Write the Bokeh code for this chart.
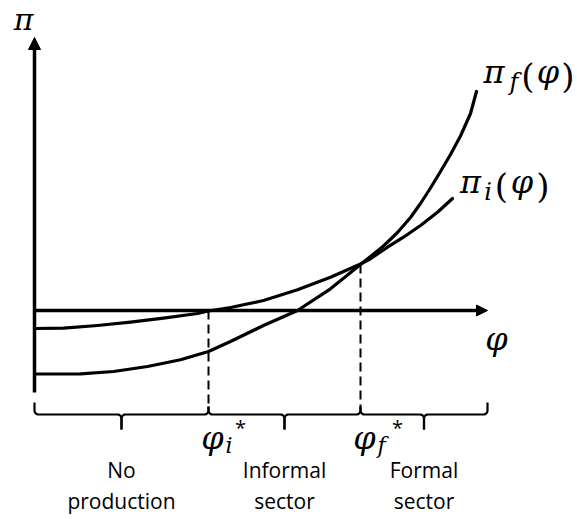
import numpy as np
from bokeh.plotting import figure
from bokeh.models import Range1d, Arrow, NormalHead
from bokeh.core.properties import value
from bokeh.embed import file_html
from bokeh.resources import INLINE

# ---- data (diagram units: phi to the right, pi upward, origin at the axes' crossing) ----
phi_i_pts = [1, 29, 63, 96, 129, 163, 174, 196, 229, 263, 296, 326, 336, 353, 369, 386, 403, 418]
pi_i_vals = [-18, -17.7, -15, -11.7, -7.7, -3, -0.5, 3, 10, 20.7, 33.3, 46.5, 51.7, 63.3, 73.3, 85, 98.3, 112]

phi_f_pts = [1, 46, 79, 113, 146, 174, 196, 229, 263, 296, 326, 336, 349, 363, 376, 386, 396, 406, 416, 426, 436, 442]
pi_f_vals = [-63.5, -63.3, -61, -56, -49.3, -41, -31, -15, 0, 21.7, 46, 54, 64.5, 78, 93, 107, 122.5, 139, 156, 174.5, 197, 219]

phi_i_star = 174
phi_f_star = 326
pi_at_f_star = 46
phi_axis_end = 453
pi_axis_top = 273
pi_axis_bottom = -82

region_edges = [0, phi_i_star, phi_f_star, phi_axis_end]
region_line1 = ["No", "Informal", "Formal"]
region_line2 = ["production", "sector", "sector"]

# ---- figure ----
p = figure(width=577, height=519, x_range=Range1d(-34, 543), y_range=Range1d(-209, 310),
           output_backend="svg", toolbar_location=None, min_border=0)
p.axis.visible = False
p.grid.visible = False
p.outline_line_color = None
p.background_fill_color = "white"
p.border_fill_color = "white"

# axes with arrows
p.add_layout(Arrow(end=NormalHead(size=12, fill_color="black", line_color="black", line_width=1),
                   x_start=0, y_start=pi_axis_bottom, x_end=0, y_end=pi_axis_top,
                   line_width=3.5, line_color="black"))
p.add_layout(Arrow(end=NormalHead(size=11, fill_color="black", line_color="black", line_width=1),
                   x_start=0, y_start=0, x_end=phi_axis_end, y_end=0,
                   line_width=3.5, line_color="black"))

# profit curves
p.line(phi_i_pts, pi_i_vals, line_width=3.2, line_color="black", line_join="round", line_cap="round")
p.line(phi_f_pts, pi_f_vals, line_width=3.2, line_color="black", line_join="round", line_cap="round")

# dashed cut-off lines
brace_y = -104
p.segment(x0=[phi_i_star, phi_f_star], y0=[0, pi_at_f_star],
          x1=[phi_i_star, phi_f_star], y1=[brace_y + 8, brace_y + 8],
          line_dash="9 5", line_width=2, line_color="black")

# curly braces under the axis
def arc(cx, cy, r, a0, a1, n=8):
    t = np.linspace(a0, a1, n)
    return list(cx + r * np.cos(t)), list(cy + r * np.sin(t))

xs, ys = [], []
r = 4
for k in range(3):
    a, b = region_edges[k], region_edges[k + 1]
    m = (a + b) / 2
    top_a = brace_y + (12 if k == 0 else 8)
    top_b = brace_y + (12 if k == 2 else 8)
    tip = brace_y - 15
    ax1, ay1 = arc(a + r, brace_y + r, r, np.pi, 1.5 * np.pi)
    ax2, ay2 = arc(m - r, brace_y - r, r, 0.5 * np.pi, 0.0)
    xs.append([a] + ax1 + ax2 + [m])
    ys.append([top_a] + ay1 + ay2 + [tip])
    bx1, by1 = arc(m + r, brace_y - r, r, np.pi, 0.5 * np.pi)
    bx2, by2 = arc(b - r, brace_y + r, r, 1.5 * np.pi, 2 * np.pi)
    xs.append([m] + bx1 + bx2 + [b])
    ys.append([tip] + by1 + by2 + [top_b])
p.multi_line(xs, ys, line_width=2.2, line_color="black", line_join="round")

# math labels
serif = value("DejaVu Serif")
dy = 6
def mtext(x, y, t, size, style="italic", font=serif):
    p.text(x=[x], y=[y + dy], text=[t], text_font=font, text_font_style=style,
           text_font_size=size, text_align="center", text_baseline="alphabetic", text_color="black")

mtext(-11, 285, "π", "30px")
mtext(462, -34, "φ", "32px")

# phi_i*
mtext(178, -133, "φ", "32px")
mtext(194.5, -141, "i", "22px")
mtext(206, -123, "*", "20px", style="normal", font=value("Open Sans"))
# phi_f*
mtext(330, -133, "φ", "32px")
mtext(347, -141, "f", "22px")
mtext(363, -123, "*", "20px", style="normal", font=value("Open Sans"))

# pi_f(phi)
mtext(459.5, 233, "π", "32px")
mtext(479.5, 223, "f", "24px")
mtext(493.5, 229, "(", "34px", style="normal")
mtext(513.5, 233, "φ", "32px")
mtext(533.5, 229, ")", "34px", style="normal")

# pi_i(phi)
mtext(436, 123, "π", "32px")
mtext(453.5, 113, "i", "24px")
mtext(467, 119, "(", "34px", style="normal")
mtext(487.5, 123, "φ", "32px")
mtext(508.5, 119, ")", "34px", style="normal")

# region labels
mids = [(region_edges[k] + region_edges[k + 1]) / 2 for k in range(3)]
p.text(x=mids, y=[-165 + dy] * 3, text=region_line1, text_font=value("Open Sans"),
       text_font_size="21px", text_align="center", text_baseline="alphabetic", text_color="black")
p.text(x=mids, y=[-196 + dy] * 3, text=region_line2, text_font=value("Open Sans"),
       text_font_size="21px", text_align="center", text_baseline="alphabetic", text_color="black")

open("out.html", "w").write(file_html(p, INLINE))
